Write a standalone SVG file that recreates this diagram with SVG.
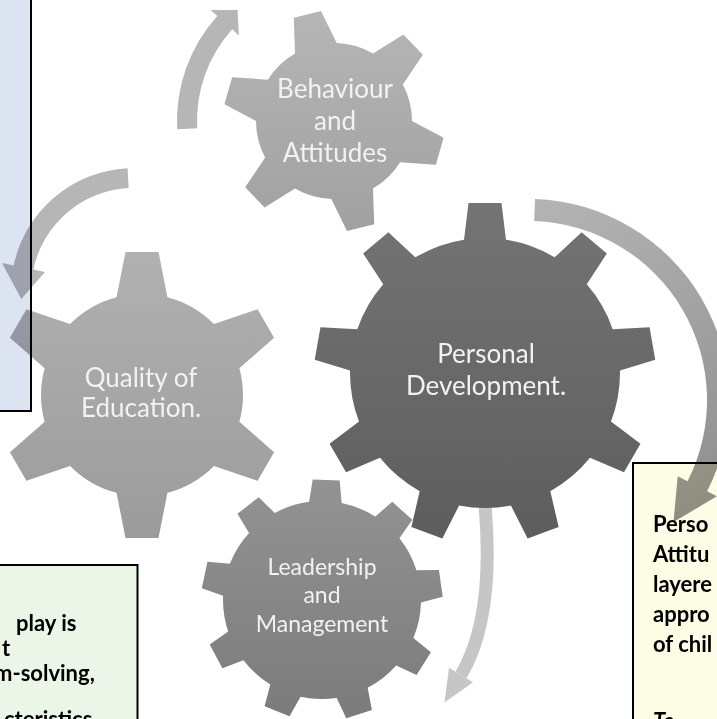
<svg xmlns="http://www.w3.org/2000/svg" width="717" height="719" viewBox="0 0 717 719">
<style>
.lbl{font-family:Lato,"Open Sans",sans-serif;font-size:26px;fill:#f2f2f2;text-anchor:middle}
.lbs{font-size:23px}
.box{stroke:#000;stroke-width:2;mix-blend-mode:multiply}
.bt{font-family:Lato,"Liberation Sans",sans-serif;font-size:22px;font-weight:bold;fill:#000}
.arr{fill:#b6b6b6}
</style>
<defs>
<linearGradient id="gB" x1="0" y1="0" x2="0" y2="1"><stop offset="0" stop-color="#b6b6b6"/><stop offset="1" stop-color="#a0a0a0"/></linearGradient>
<linearGradient id="gQ" x1="0" y1="0" x2="0" y2="1"><stop offset="0" stop-color="#b1b1b1"/><stop offset="1" stop-color="#9b9b9b"/></linearGradient>
<linearGradient id="gP" x1="0" y1="0" x2="0" y2="1"><stop offset="0" stop-color="#747474"/><stop offset="1" stop-color="#5d5d5d"/></linearGradient>
<linearGradient id="gL" x1="0" y1="0" x2="0" y2="1"><stop offset="0" stop-color="#939393"/><stop offset="1" stop-color="#7b7b7b"/></linearGradient>
<linearGradient id="gC" gradientUnits="userSpaceOnUse" x1="535" y1="200" x2="700" y2="520"><stop offset="0" stop-color="#b4b4b4"/><stop offset="1" stop-color="#8e8e8e"/></linearGradient>
<path id="tB" d="M-23 -68 L23 -68 L14 -110 L-14 -110 Z"/>
<path id="tQ" d="M-27 -90 L27 -90 L16.5 -143 L-16.5 -143 Z"/>
<path id="tP" d="M-22 -125 L22 -125 L16.5 -170 L-16.5 -170 Z"/>
<path id="tL" d="M-17 -92 L17 -92 L13.5 -120 L-13.5 -120 Z"/>
<clipPath id="cpB">
<circle cx="334" cy="121" r="78"/>
<use href="#tB" transform="translate(334 121) rotate(-14)"/>
<use href="#tB" transform="translate(334 121) rotate(46)"/>
<use href="#tB" transform="translate(334 121) rotate(106)"/>
<use href="#tB" transform="translate(334 121) rotate(166)"/>
<use href="#tB" transform="translate(334 121) rotate(226)"/>
<use href="#tB" transform="translate(334 121) rotate(286)"/>
</clipPath>
<clipPath id="cpQ">
<circle cx="142" cy="395" r="101"/>
<use href="#tQ" transform="translate(142 395) rotate(0)"/>
<use href="#tQ" transform="translate(142 395) rotate(60)"/>
<use href="#tQ" transform="translate(142 395) rotate(120)"/>
<use href="#tQ" transform="translate(142 395) rotate(180)"/>
<use href="#tQ" transform="translate(142 395) rotate(240)"/>
<use href="#tQ" transform="translate(142 395) rotate(300)"/>
</clipPath>
<clipPath id="cpP">
<circle cx="485" cy="373" r="135"/>
<use href="#tP" transform="translate(485 373) rotate(0)"/>
<use href="#tP" transform="translate(485 373) rotate(40)"/>
<use href="#tP" transform="translate(485 373) rotate(80)"/>
<use href="#tP" transform="translate(485 373) rotate(120)"/>
<use href="#tP" transform="translate(485 373) rotate(160)"/>
<use href="#tP" transform="translate(485 373) rotate(200)"/>
<use href="#tP" transform="translate(485 373) rotate(240)"/>
<use href="#tP" transform="translate(485 373) rotate(280)"/>
<use href="#tP" transform="translate(485 373) rotate(320)"/>
</clipPath>
<clipPath id="cpL">
<circle cx="322" cy="600" r="99"/>
<use href="#tL" transform="translate(322 600) rotate(2)"/>
<use href="#tL" transform="translate(322 600) rotate(42)"/>
<use href="#tL" transform="translate(322 600) rotate(82)"/>
<use href="#tL" transform="translate(322 600) rotate(122)"/>
<use href="#tL" transform="translate(322 600) rotate(162)"/>
<use href="#tL" transform="translate(322 600) rotate(202)"/>
<use href="#tL" transform="translate(322 600) rotate(242)"/>
<use href="#tL" transform="translate(322 600) rotate(282)"/>
<use href="#tL" transform="translate(322 600) rotate(322)"/>
</clipPath>
</defs>
<rect width="717" height="719" fill="#fff"/>
<g id="connectors">
<path id="arrow-a" class="arr" d="M177.2 129.2 A157 157 0 0 1 217.3 15.9 L210.6 9.9 L237.6 10.1 L238.9 35.4 L232.2 29.3 A137 137 0 0 0 197.2 128.2 Z"/>
<path id="arrow-b" class="arr" d="M127.6 168.2 A123 123 0 0 0 13.7 265.4 L2 262.9 L21.3 298.9 L45 272.1 L33.3 269.6 A103 103 0 0 1 128.6 188.1 Z"/>
<path id="arrow-c" fill="url(#gC)" d="M535 199.1 A201 201 0 0 1 707.1 491.3 L716.9 496.2 L673.5 522.1 L677.7 476.3 L687.5 481.3 A179 179 0 0 0 534.2 221.1 Z"/>
<g id="arrow-d" fill="#c6c6c6">
<path d="M485 505 C492 585 482 640 461 675" fill="none" stroke="#c6c6c6" stroke-width="13"/>
<polygon points="473,682.2 444.5,702.5 449,667.8"/>
</g>
</g>
<g id="gear-behaviour">
<rect x="220" y="8" width="230" height="230" fill="url(#gB)" clip-path="url(#cpB)"/>
<text class="lbl" x="335" y="98">Behaviour</text>
<text class="lbl" x="335" y="130">and</text>
<text class="lbl" x="335" y="162">Attitudes</text>
</g>
<g id="gear-quality">
<rect x="-5" y="250" width="295" height="292" fill="url(#gQ)" clip-path="url(#cpQ)"/>
<text class="lbl" x="141" y="387">Quality of</text>
<text class="lbl" x="141" y="417">Education.</text>
</g>
<g id="gear-personal">
<rect x="312" y="200" width="346" height="346" fill="url(#gP)" clip-path="url(#cpP)"/>
<text class="lbl" x="486" y="363">Personal</text>
<text class="lbl" x="486" y="395">Development.</text>
</g>
<g id="gear-leadership">
<rect x="200" y="478" width="244" height="244" fill="url(#gL)" clip-path="url(#cpL)"/>
<text class="lbl lbs" x="322" y="575">Leadership</text>
<text class="lbl lbs" x="322" y="603">and</text>
<text class="lbl lbs" x="322" y="632">Management</text>
</g>
<g id="box-blue">
<rect class="box" x="-3" y="-3" width="34" height="414" fill="#dce3f1"/>
</g>
<g id="box-green">
<rect class="box" x="-3" y="565" width="140.5" height="160" fill="#ebf6e9"/>
<text class="bt" x="16" y="631">play is</text>
<text class="bt" x="2" y="656">t</text>
<text class="bt" x="-6" y="681">m-solving,</text>
<text class="bt" x="4" y="727">cteristics</text>
</g>
<g id="box-yellow">
<rect class="box" x="633" y="463" width="90" height="262" fill="#fdfde6"/>
<text class="bt" x="653" y="532">Perso</text>
<text class="bt" x="653" y="562">Attitu</text>
<text class="bt" x="653" y="592">layere</text>
<text class="bt" x="653" y="622">appro</text>
<text class="bt" x="653" y="652">of chil</text>
<text class="bt" x="653" y="729" font-style="italic">To</text>
</g>
</svg>
